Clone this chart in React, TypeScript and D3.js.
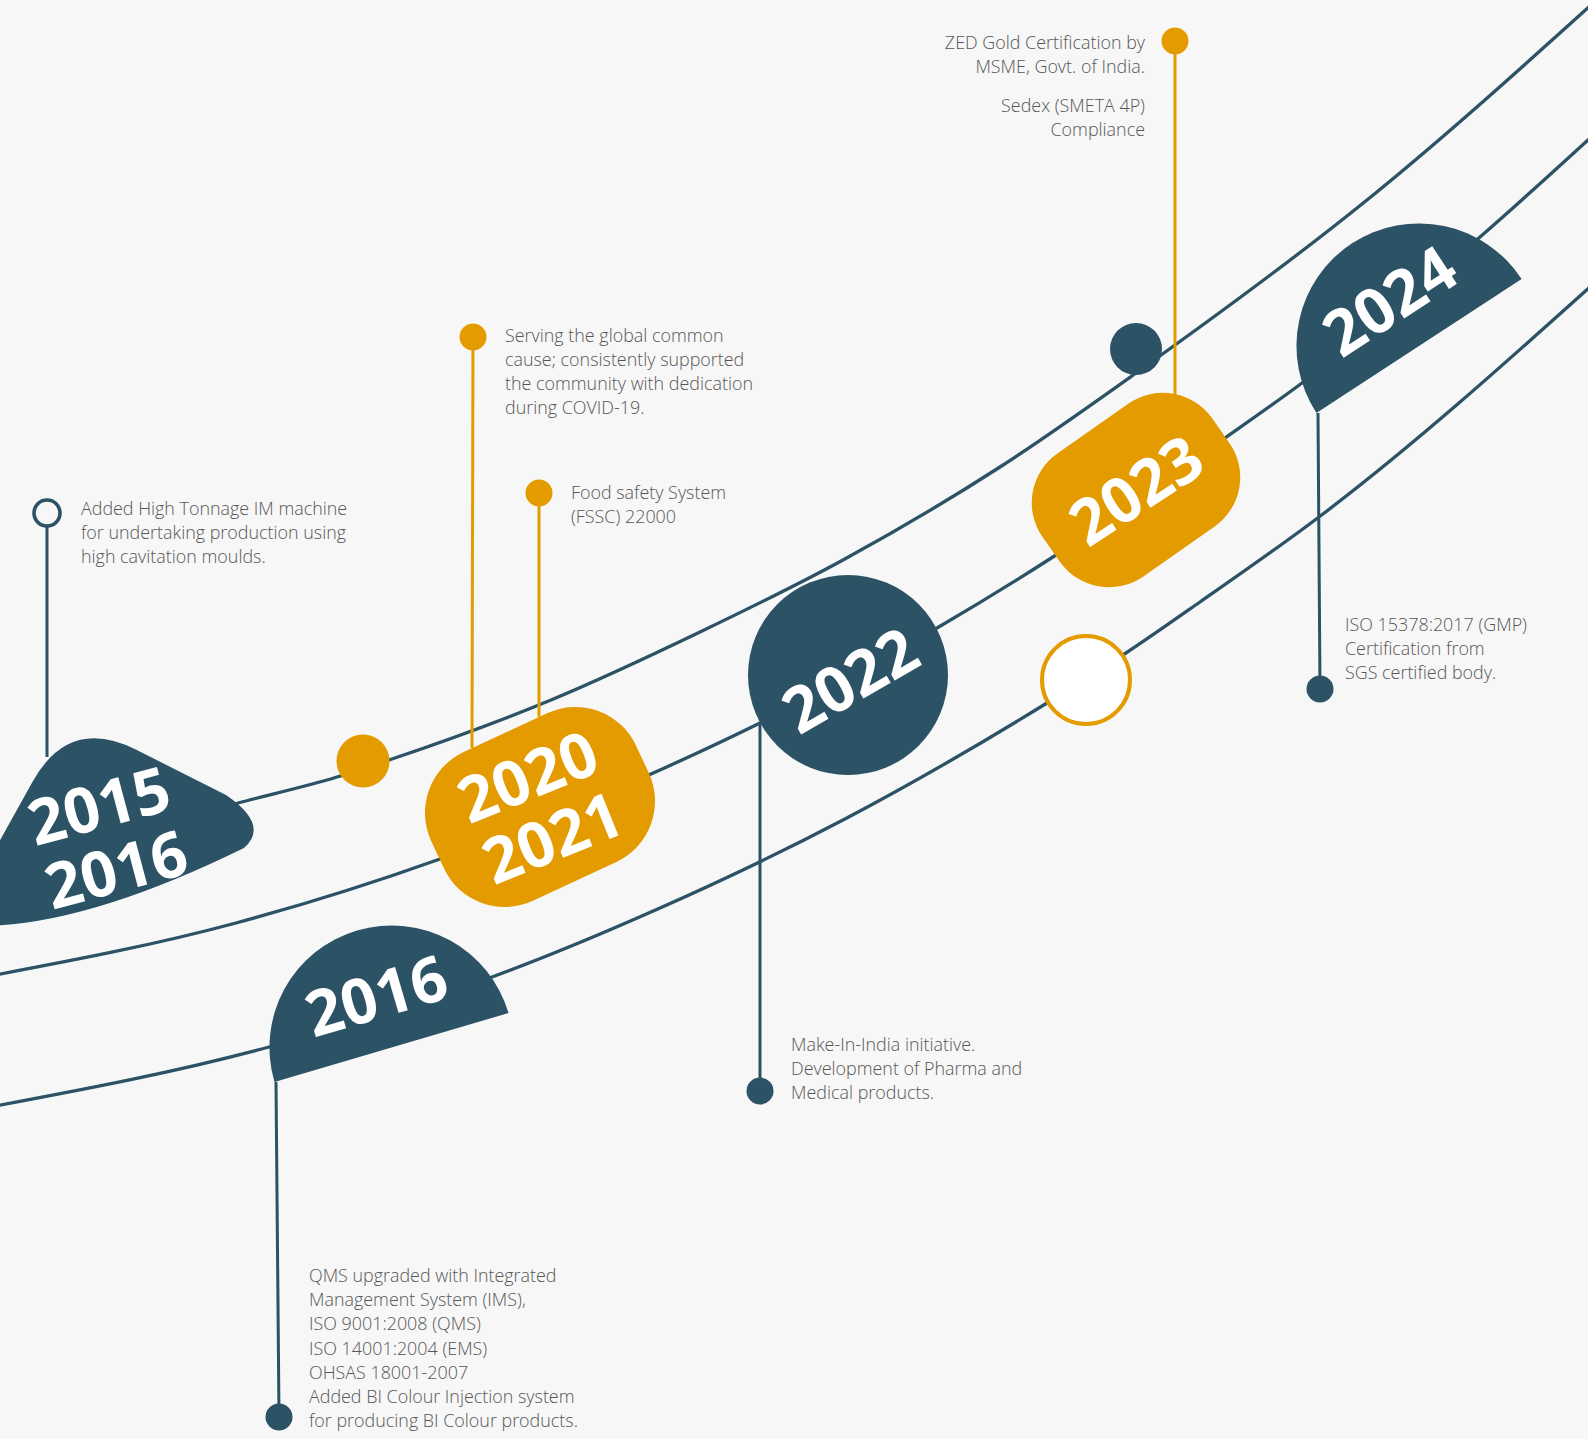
import React from "react";
import * as d3 from "d3";

// year labels printed on the badges
const badgeYears: string[][] = [["2015", "2016"], ["2016"], ["2020", "2021"], ["2022"], ["2023"], ["2024"]];

// notes next to the stems
const noteHighTonnage = ["Added High Tonnage IM machine", "for undertaking production using", "high cavitation moulds."];
const noteIms = [
  "QMS upgraded with Integrated",
  "Management System (IMS),",
  "ISO 9001:2008 (QMS)",
  "ISO 14001:2004 (EMS)",
  "OHSAS 18001-2007",
  "Added BI Colour Injection system",
  "for producing BI Colour products.",
];
const noteCovid = ["Serving the global common", "cause; consistently supported", "the community with dedication", "during COVID-19."];
const noteFssc = ["Food safety System", "(FSSC) 22000"];
const noteMakeInIndia = ["Make-In-India initiative.", "Development of Pharma and", "Medical products."];
const noteZed = ["ZED Gold Certification by", "MSME, Govt. of India."];
const noteSedex = ["Sedex (SMETA 4P)", "Compliance"];
const noteGmp = ["ISO 15378:2017 (GMP)", "Certification from", "SGS certified body."];

const W = 1588, H = 1439;
const DARK = "#2c5266", GOLD = "#e39b00", INK = "#565656", BG = "#f7f7f7";
const FONT = "'Open Sans', 'Noto Sans', sans-serif";

// the three rails
const railTop: [number, number][] = [[-20, 876], [238, 803], [337, 777], [389, 760], [551, 700], [700, 632], [843, 560], [1000, 467], [1136, 373], [1367, 200], [1600, -3]];
const railMid: [number, number][] = [[-10, 976], [236, 923], [440, 859], [660, 770], [760, 723], [937, 628], [1056, 555], [1225, 438], [1302, 383], [1480, 237], [1600, 129]];
const railLow: [number, number][] = [[-10, 1107], [269, 1047], [492, 977], [660, 908], [843, 820], [1047, 703], [1123, 655], [1200, 602], [1319, 517], [1600, 278]];

const rail = d3.line<[number, number]>().curve(d3.curveMonotoneX);

// badges, in the same order as badgeYears
const badgeLayout = [
  { kind: "blob", x: 107.5, y: 837.5, angle: -15, fill: DARK },
  { kind: "half", x: 391.5, y: 1047.5, angle: -16.4, r: 122, fill: DARK },
  { kind: "pill", x: 540, y: 807, w: 226, h: 164, r: 67, angle: -25, textAngle: -22, fill: GOLD },
  { kind: "circle", x: 848, y: 675, r: 100, textAngle: -30, fill: DARK },
  { kind: "pill", x: 1136, y: 490, w: 207, h: 150, r: 60, angle: -35, textAngle: -33, fill: GOLD },
  { kind: "half", x: 1419, y: 346, angle: -33.1, r: 122.5, fill: DARK },
];

const stems = [
  { x1: 47, y1: 757, x2: 47, y2: 513, color: DARK, ring: true },
  { x1: 276, y1: 1082, x2: 279, y2: 1417, color: DARK },
  { x1: 472, y1: 748, x2: 473, y2: 337, color: GOLD },
  { x1: 539, y1: 717, x2: 539, y2: 493, color: GOLD },
  { x1: 760, y1: 723, x2: 760, y2: 1091, color: DARK },
  { x1: 1175, y1: 396, x2: 1175, y2: 41, color: GOLD },
  { x1: 1318, y1: 413, x2: 1320, y2: 689, color: DARK },
];

const notes = [
  { lines: noteHighTonnage, x: 81, y: 515, anchor: "start" },
  { lines: noteCovid, x: 505, y: 341.5, anchor: "start" },
  { lines: noteFssc, x: 571, y: 499, anchor: "start" },
  { lines: noteZed, x: 1145, y: 48.5, anchor: "end" },
  { lines: noteSedex, x: 1145, y: 111.5, anchor: "end" },
  { lines: noteGmp, x: 1345, y: 630.5, anchor: "start" },
  { lines: noteMakeInIndia, x: 791, y: 1050.5, anchor: "start" },
  { lines: noteIms, x: 309, y: 1282, anchor: "start" },
];
const LINE = 24.2;

function blobPath() {
  const p = d3.path();
  p.moveTo(-20, 876);
  p.lineTo(32.7, 781.5);
  p.quadraticCurveTo(69.3, 716, 136.3, 749.8);
  p.lineTo(226, 795);
  p.quadraticCurveTo(270, 825, 244, 848);
  p.quadraticCurveTo(85, 926, -20, 926);
  p.closePath();
  return p.toString();
}

const halfDisk = (r: number) =>
  d3.arc()({ innerRadius: 0, outerRadius: r, startAngle: -Math.PI / 2, endAngle: Math.PI / 2 }) as string;

function YearText({ lines, x, y, angle }: { lines: string[]; x: number; y: number; angle: number }) {
  const gap = 66;
  return (
    <g transform={`translate(${x},${y}) rotate(${angle})`}>
      {lines.map((t, i) => (
        <text key={t + i} x={0} y={(i - (lines.length - 1) / 2) * gap} dy="0.36em" textAnchor="middle"
          fill="#fff" fontFamily={FONT} fontWeight={700} fontSize={63}>{t}</text>
      ))}
    </g>
  );
}

export default function App() {
  return (
    <svg width={W} height={H} viewBox={`0 0 ${W} ${H}`} style={{ position: "absolute", left: 0, top: 0, display: "block" }}>
      <rect width={W} height={H} fill={BG} />

      {[railTop, railMid, railLow].map((pts, i) => (
        <path key={i} d={rail(pts) as string} fill="none" stroke={DARK} strokeWidth={3.3} />
      ))}

      {/* markers sitting on the rails */}
      <circle cx={363} cy={761} r={26.5} fill={GOLD} />
      <circle cx={1136} cy={349} r={26} fill={DARK} />
      <circle cx={1086} cy={680} r={44} fill="#fff" stroke={GOLD} strokeWidth={4} />

      {stems.map((s, i) => (
        <g key={i}>
          <line x1={s.x1} y1={s.y1} x2={s.x2} y2={s.y2} stroke={s.color} strokeWidth={3} />
          {s.ring
            ? <circle cx={s.x2} cy={s.y2} r={13} fill={BG} stroke={s.color} strokeWidth={3.6} />
            : <circle cx={s.x2} cy={s.y2} r={13.5} fill={s.color} />}
        </g>
      ))}

      {badgeLayout.map((b, i) => {
        const years = badgeYears[i];
        if (b.kind === "blob") {
          return (
            <g key={i}>
              <path d={blobPath()} fill={b.fill} />
              <YearText lines={years} x={b.x} y={b.y} angle={b.angle} />
            </g>
          );
        }
        if (b.kind === "half") {
          return (
            <g key={i} transform={`translate(${b.x},${b.y}) rotate(${b.angle})`}>
              <path d={halfDisk(b.r!)} fill={b.fill} />
              <YearText lines={years} x={0} y={-54} angle={0} />
            </g>
          );
        }
        if (b.kind === "pill") {
          return (
            <g key={i}>
              <rect x={-b.w! / 2} y={-b.h! / 2} width={b.w} height={b.h} rx={b.r} ry={b.r}
                transform={`translate(${b.x},${b.y}) rotate(${b.angle})`} fill={b.fill} />
              <YearText lines={years} x={b.x} y={b.y} angle={b.textAngle!} />
            </g>
          );
        }
        return (
          <g key={i}>
            <circle cx={b.x} cy={b.y} r={b.r} fill={b.fill} />
            <YearText lines={years} x={b.x + 2} y={b.y + 5} angle={b.textAngle!} />
          </g>
        );
      })}

      {notes.map((n, i) => (
        <text key={i} fontFamily={FONT} fontWeight={300} fontSize={17.9} fill={INK} textAnchor={n.anchor as any}>
          {n.lines.map((l, j) => (
            <tspan key={j} x={n.x} y={n.y + j * LINE}>{l}</tspan>
          ))}
        </text>
      ))}
    </svg>
  );
}
